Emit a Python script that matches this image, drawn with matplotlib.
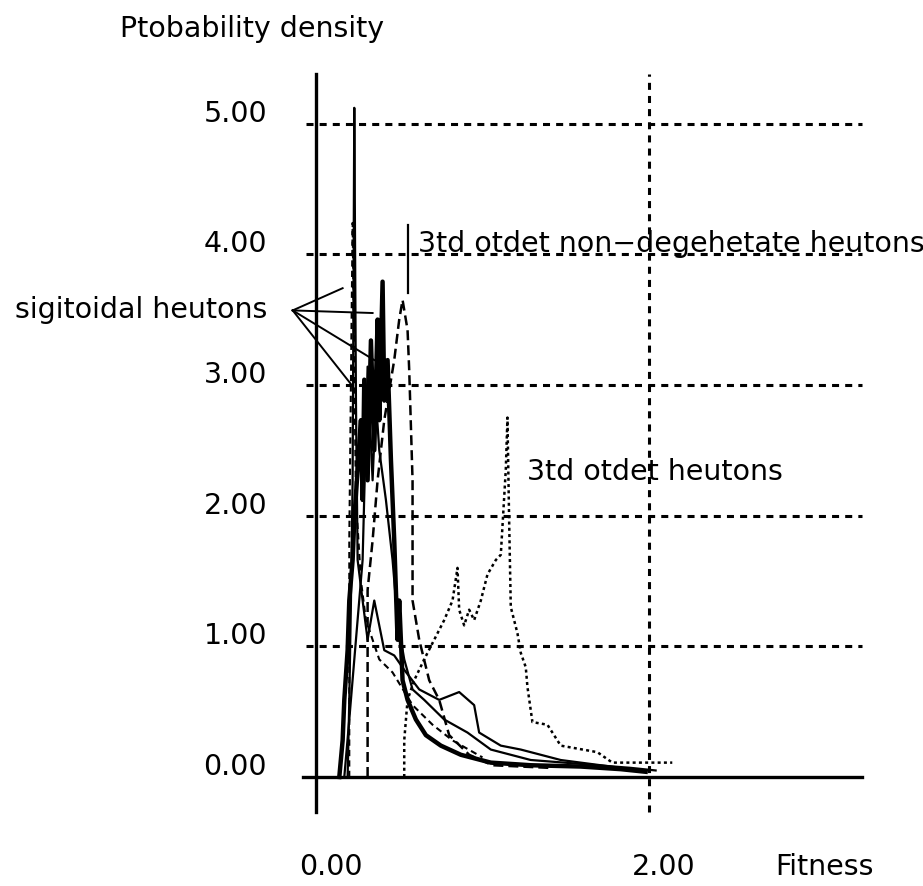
import numpy as np
import matplotlib
matplotlib.use('Agg')
import matplotlib.pyplot as plt

# sigmoidal neurons (solid)
sig_main_x = [0.14, 0.16, 0.17, 0.19, 0.20, 0.22, 0.23, 0.25, 0.27, 0.28, 0.29, 0.31, 0.33, 0.35, 0.37,
              0.38, 0.40, 0.41, 0.43, 0.45, 0.47, 0.49, 0.50, 0.52, 0.55, 0.60, 0.66, 0.75, 0.87, 1.05,
              1.29, 1.59, 1.83, 1.98]
sig_main_y = [0.00, 0.28, 0.59, 0.97, 1.35, 1.66, 1.97, 2.35, 2.73, 2.12, 3.04, 2.27, 3.34, 2.50, 3.50,
              2.73, 3.79, 2.88, 3.19, 2.43, 1.81, 1.05, 1.35, 0.74, 0.59, 0.44, 0.32, 0.24, 0.17, 0.11,
              0.09, 0.08, 0.06, 0.04]

sig_spike_x = [0.19, 0.20, 0.21, 0.22, 0.225, 0.23, 0.24, 0.25, 0.28, 0.31, 0.35, 0.41, 0.47, 0.53,
               0.62, 0.74, 0.86, 0.95, 0.98, 1.11, 1.23, 1.47, 1.71, 1.95]
sig_spike_y = [0.00, 0.59, 1.35, 2.27, 3.65, 5.12, 2.88, 1.66, 1.35, 1.05, 1.35, 0.97, 0.93, 0.82,
               0.67, 0.59, 0.65, 0.55, 0.34, 0.24, 0.21, 0.13, 0.09, 0.05]

sig_c_x = [0.17, 0.20, 0.24, 0.28, 0.31, 0.34, 0.36, 0.38, 0.42, 0.46, 0.49, 0.53, 0.58, 0.65, 0.77,
           0.91, 1.05, 1.29, 1.59, 1.89, 2.04]
sig_c_y = [0.00, 0.44, 1.05, 1.66, 3.14, 2.27, 2.88, 2.50, 2.12, 1.66, 1.20, 0.90, 0.67, 0.59, 0.44,
           0.34, 0.21, 0.13, 0.10, 0.07, 0.05]

# 3rd order non-degenerate neurons (dashed)
nd_a_x = [0.31, 0.31, 0.34, 0.37, 0.41, 0.47, 0.50, 0.52, 0.55, 0.56, 0.58, 0.58, 0.62, 0.68, 0.74,
          0.80, 0.92, 1.06, 1.40]
nd_a_y = [0.00, 1.43, 1.81, 2.27, 2.73, 3.19, 3.50, 3.65, 3.42, 3.11, 2.27, 1.35, 1.05, 0.74, 0.59,
          0.32, 0.17, 0.09, 0.07]

nd_b_x = [0.20, 0.20, 0.22, 0.24, 0.27, 0.30, 0.38, 0.46, 0.58, 0.70, 0.82, 1.00]
nd_b_y = [0.00, 1.81, 4.24, 2.12, 1.50, 1.20, 0.90, 0.80, 0.55, 0.40, 0.28, 0.15]

# 3rd order neurons (dotted)
ord3_x = [0.53, 0.53, 0.55, 0.59, 0.65, 0.71, 0.77, 0.82, 0.85, 0.86, 0.89, 0.92, 0.95, 0.99, 1.03,
          1.08, 1.11, 1.14, 1.15, 1.16, 1.17, 1.21, 1.23, 1.26, 1.27, 1.29, 1.30, 1.39, 1.47, 1.69,
          1.78, 2.14]
ord3_y = [0.00, 0.28, 0.59, 0.74, 0.90, 1.05, 1.20, 1.35, 1.60, 1.28, 1.16, 1.28, 1.20, 1.35, 1.55,
          1.66, 1.70, 2.35, 2.75, 1.97, 1.30, 1.10, 0.95, 0.84, 0.69, 0.51, 0.42, 0.40, 0.24, 0.19,
          0.11, 0.11]

y_ticks = [0, 1, 2, 3, 4, 5]
y_labels = ['0.00', '1.00', '2.00', '3.00', '4.00', '5.00']
x_ticks = [0, 2]
x_labels = ['0.00', '2.00']

# annotation: sigmoidal label tip and targets
sig_tip = (-0.14, 3.57)
sig_targets = [(0.16, 3.74), (0.34, 3.55), (0.35, 3.19), (0.22, 2.99)]

fig = plt.figure(figsize=(9.23, 8.86), dpi=100)
ax = fig.add_axes([0, 0, 1, 1])
ax.set_xlim(-1.898, 3.646)
ax.set_ylim(-0.834, 5.945)

for s in ['top', 'right']:
    ax.spines[s].set_visible(False)
ax.spines['left'].set_position(('data', 0))
ax.spines['bottom'].set_position(('data', 0))
ax.spines['left'].set_bounds(-0.27, 5.38)
ax.spines['bottom'].set_bounds(-0.08, 3.28)
ax.spines['left'].set_linewidth(2.4)
ax.spines['bottom'].set_linewidth(2.4)
ax.set_xticks([])
ax.set_yticks([])
ax.patch.set_alpha(0)

grid_style = dict(color='black', lw=2.2, linestyle=(0, (2.3, 2.0)))
ax.hlines(y_ticks[1:], -0.06, 3.28, **grid_style)
ax.vlines(x_ticks[1:], -0.27, 5.38, **grid_style)

# data
ax.plot(sig_main_x, sig_main_y, color='black', lw=3.2)
ax.plot(sig_spike_x, sig_spike_y, color='black', lw=1.6)
ax.plot(sig_c_x, sig_c_y, color='black', lw=1.6)
ax.plot(nd_a_x, nd_a_y, color='black', lw=1.8, linestyle=(0, (4, 2)))
ax.plot(nd_b_x, nd_b_y, color='black', lw=1.5, linestyle=(0, (3, 2)))
ax.plot(ord3_x, ord3_y, color='black', lw=1.8, linestyle=(0, (1.2, 1.3)))

# labels
fs = 20.5
for v, lab in zip(y_ticks, y_labels):
    ax.text(-0.294, v + 0.015, lab, ha='right', va='baseline', fontsize=fs)
for v, lab in zip(x_ticks, x_labels):
    ax.text(v - 0.1, -0.75, lab, ha='left', va='baseline', fontsize=fs)
ax.text(2.76, -0.75, 'Fitness', ha='left', va='baseline', fontsize=fs)
ax.text(-1.177, 5.66, 'Ptobability density', ha='left', va='baseline', fontsize=fs)

ax.text(-1.808, 3.51, 'sigitoidal heutons', ha='left', va='baseline', fontsize=fs)
for tx, ty in sig_targets:
    ax.plot([sig_tip[0], tx], [sig_tip[1], ty], color='black', lw=1.4)

ax.text(0.613, 4.02, '3td otdet non\u2212degehetate heutons', ha='left', va='baseline', fontsize=fs)
ax.plot([0.55, 0.55], [3.7, 4.22], color='black', lw=1.6)

ax.text(1.267, 2.27, '3td otdet heutons', ha='left', va='baseline', fontsize=fs)

fig.savefig('out.png', dpi=100)
